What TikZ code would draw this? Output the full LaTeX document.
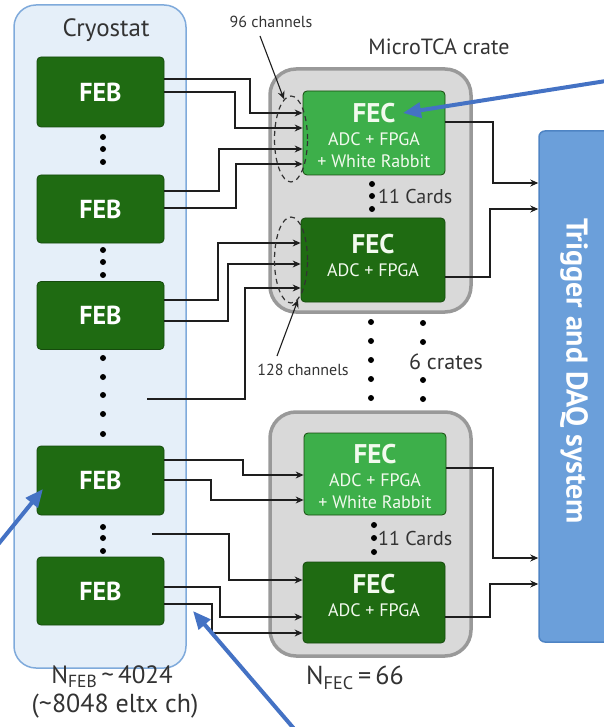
\documentclass[tikz,border=0pt]{standalone}
\usepackage{fontspec}
\setmainfont{PT Sans}
\usetikzlibrary{arrows.meta,shapes.geometric}
\definecolor{febgreen}{HTML}{1F6B12}
\definecolor{fecgreen}{HTML}{3DAF4A}
\definecolor{cryofill}{HTML}{E5EFF9}
\definecolor{cryoline}{HTML}{7FAADB}
\definecolor{cratefill}{HTML}{D9D9D9}
\definecolor{crateline}{HTML}{999999}
\definecolor{daqfill}{HTML}{6B9FDA}
\definecolor{daqline}{HTML}{4E84C4}
\definecolor{annblue}{HTML}{4472C4}
\definecolor{wirec}{HTML}{1E1E1E}
\definecolor{labelc}{HTML}{333333}
\definecolor{fectext}{HTML}{F2FAEE}
\newcommand{\fecbig}{\bfseries\fontsize{27}{27}\selectfont}
\begin{document}
\begin{tikzpicture}[x=1pt,y=-1pt,
  febbox/.style={rectangle, rounded corners=4pt, fill=febgreen, draw=febgreen!70!black, line width=0.8pt,
    minimum width=127pt, minimum height=68pt, inner sep=0pt, text=white, font=\bfseries\fontsize{26}{26}\selectfont},
  fecbox/.style={rectangle, rounded corners=4pt, draw=febgreen!70!black, line width=0.8pt,
    minimum width=142pt, minimum height=83pt, inner sep=0pt},
  fectxt/.style={inner sep=0pt, text=fectext, align=center, font=\fontsize{18}{22}\selectfont},
  cratebox/.style={rectangle, rounded corners=26pt, fill=cratefill, draw=crateline, line width=3.5pt,
    minimum width=201pt, minimum height=243pt, inner sep=0pt},
  wire/.style={draw=wirec, line width=1.1pt, -{Stealth[length=8pt,width=7pt]}},
  chan/.style={ellipse, draw=black!80, dashed, dash pattern=on 5pt off 4pt, line width=1.2pt,
    minimum width=33pt, minimum height=86pt, inner sep=0pt},
  lbl/.style={text=labelc, inner sep=0pt},
  ann/.style={draw=annblue, line width=4pt, -{Triangle[length=18pt,width=15pt]}},
  dot/.style={fill=black}
]
\useasboundingbox (0,0) rectangle (603,727);

% Cryostat
\node[rectangle, rounded corners=22pt, fill=cryofill, draw=cryoline, line width=1.5pt,
  minimum width=172pt, minimum height=663pt, inner sep=0pt] (cryo) at (100,336.5) {};
\node[lbl, font=\fontsize{25}{25}\selectfont] (cryolbl) at (106,30) {Cryostat};

% Crates
\node[cratebox] (crate1) at (370.5,190.5) {};
\node[cratebox, minimum height=244pt] (crate2) at (370.5,534) {};
\node[lbl, font=\fontsize{22}{22}\selectfont] (cratelbl) at (439,47) {MicroTCA crate};

% DAQ
\node[rectangle, rounded corners=6pt, fill=daqfill, draw=daqline, line width=1.5pt,
  minimum width=76pt, minimum height=511pt, inner sep=0pt] (daq) at (577,386.5) {};
\node[rotate=-90, text=white, font=\bfseries\fontsize{30}{30}\selectfont] (daqtext) at (574,371) {Trigger and DAQ system};

% FEBs
\node[febbox, minimum height=70pt] (feb1) at (100.5,92) {FEB};
\node[febbox] (feb2) at (100.5,209) {FEB};
\node[febbox] (feb3) at (100.5,315.5) {FEB};
\node[febbox, minimum height=69pt] (feb4) at (100.5,480.5) {FEB};
\node[febbox] (feb5) at (100.5,591) {FEB};

% FECs
\node[fecbox, fill=fecgreen, minimum height=84pt] (fec1) at (374,133) {};
\node[fecbox, fill=febgreen, minimum width=144pt, minimum height=84pt] (fec2) at (373,260) {};
\node[fecbox, fill=fecgreen, minimum height=82pt] (fec3) at (375,474) {};
\node[fecbox, fill=febgreen, minimum height=81pt] (fec4) at (374,602.5) {};
\node[fectxt] (fec1t) at (374,135) {{\fecbig FEC}\\[1pt]ADC + FPGA\\+ White Rabbit};
\node[fectxt] (fec2t) at (373,255) {{\fecbig FEC}\\[1pt]ADC + FPGA};
\node[fectxt] (fec3t) at (375,476) {{\fecbig FEC}\\[1pt]ADC + FPGA\\+ White Rabbit};
\node[fectxt] (fec4t) at (374,595) {{\fecbig FEC}\\[1pt]ADC + FPGA};

% free wire starts
\coordinate (free1) at (147,399);
\coordinate (free2) at (152,534);

% Wires into upper crate
\draw[wire] (feb1.east |- 0,79)  -| (250,113) -- (fec1.west |- 0,113);
\draw[wire] (feb1.east |- 0,92)  -| (235,128) -- (fec1.west |- 0,128);
\draw[wire] (feb2.east |- 0,191) -| (219,149) -- (fec1.west |- 0,149);
\draw[wire] (feb2.east |- 0,208) -| (236,164) -- (fec1.west |- 0,164);
\draw[wire] (feb3.east |- 0,300) -| (218,243) -- (fec2.west |- 0,243);
\draw[wire] (feb3.east |- 0,321) -| (228,264) -- (fec2.west |- 0,264);
\draw[wire] (free1) -| (245,288) -- (fec2.west |- 0,288);

% Wires into lower crate
\draw[wire] (feb4.east |- 0,460) -| (243,475) -- (fec3.west |- 0,475);
\draw[wire] (feb4.east |- 0,480) -| (211,500) -- (fec3.west |- 0,500);
\draw[wire] (free2) -| (229,580) -- (fec4.west |- 0,580);
\draw[wire] (feb5.east |- 0,587) -| (220,617) -- (fec4.west |- 0,617);
\draw[wire] (feb5.east |- 0,604) -| (212,633) -- (fec4.west |- 0,633);

% Outputs to DAQ
\draw[wire] (fec1.east |- 0,122) -| (493,183) -- (daq.west |- 0,183);
\draw[wire] (fec2.east |- 0,277) -| (490,209) -- (daq.west |- 0,209);
\draw[wire] (fec3.east |- 0,468) -| (493,558) -- (daq.west |- 0,558);
\draw[wire] (fec4.east |- 0,617) -| (490,584) -- (daq.west |- 0,584);

% Channel ellipses
\node[chan] (ell1) at (291,139) {};
\node[chan] (ell2) at (291,260) {};
\node[lbl, font=\fontsize{16}{16}\selectfont] (t96) at (271,22) {96 channels};
\node[lbl, font=\fontsize{16}{16}\selectfont] (t128) at (303,370) {128 channels};
\draw[wire] ([xshift=-11pt,yshift=-8pt]t96.south) -- (ell1.100);
\draw[wire] ([xshift=-26pt,yshift=8pt]t128.north) -- (ell2.-80);

% Dots in cryostat
\foreach \y in {137,149,162,250,262,275,358,377,395,414,434,527,538,551}
  \fill[dot] (103,\y) circle (3pt);
% 11 Cards dots
\foreach \y in {184,196,209} \fill[dot] (372,\y) circle (3pt);
\foreach \y in {525,538,552} \fill[dot] (374,\y) circle (3pt);
\node[lbl, anchor=west, font=\fontsize{20}{20}\selectfont] (cards1) at (378,197) {11 Cards};
\node[lbl, anchor=west, font=\fontsize{20}{20}\selectfont] (cards2) at (378,538) {11 Cards};
% 6 crates dots
\foreach \y in {322,341,360,379,398} \fill[dot] (371,\y) circle (3pt);
\foreach \y in {323,342,380,399} \fill[dot] (423,\y) circle (3pt);
\node[lbl, font=\fontsize{22}{22}\selectfont] (crates) at (446,362) {6 crates};

% Bottom labels
\node[lbl, font=\fontsize{25}{25}\selectfont] (nfeb) at (112,677) {N\textsubscript{FEB}\,\textasciitilde\,4024};
\node[lbl, font=\fontsize{26}{26}\selectfont] (eltx) at (115,706) {(\textasciitilde 8048 eltx ch)};
\node[lbl, font=\fontsize{26}{26}\selectfont] (nfec) at (355,678) {N\textsubscript{FEC}\,=\,66};

% Blue annotation arrows
\coordinate (a1s) at (606,81);
\coordinate (a1e) at (403,113);
\coordinate (a2s) at (-4,547);
\coordinate (a2e) at (43,489);
\coordinate (a3s) at (296,731);
\coordinate (a3e) at (193,611);
\draw[ann] (a1s) -- (a1e);
\draw[ann] (a2s) -- (a2e);
\draw[ann] (a3s) -- (a3e);
\end{tikzpicture}
\end{document}
